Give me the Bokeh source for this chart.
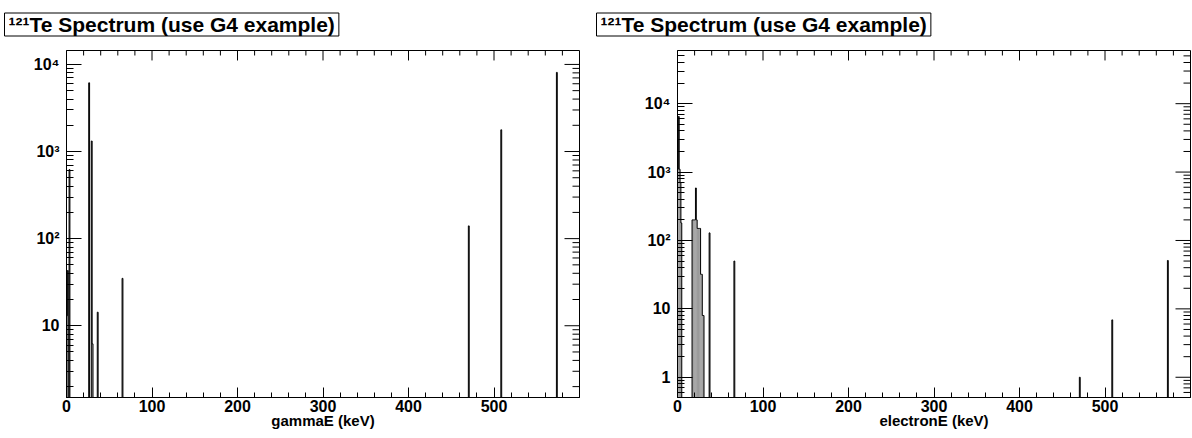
import math
import numpy as np
from bokeh.plotting import figure
from bokeh.models import Range1d, FixedTicker
from bokeh.layouts import row
from bokeh.embed import file_html
from bokeh.resources import INLINE

title_text = "¹²¹Te Spectrum (use G4 example)"

# histogram content: 1 keV bins (left edges) and their counts; all other bins are empty
gamma_bins = [0, 1, 3, 26, 29, 30, 36, 65, 470, 508, 573]
gamma_counts = [13, 43, 620, 6150, 1320, 6.2, 14.3, 35, 140, 1775, 8100]

electron_bins = [0, 1, 2, 3, 4, 17, 18, 19, 20, 21, 22, 23, 24, 25, 26, 27, 28, 29, 30, 37, 66, 470, 508, 573]
electron_counts = [1100, 6500, 1100, 700, 180, 200, 200, 200, 200, 585, 200, 150, 150, 150, 150,
                   32, 32, 8, 8, 129, 50, 1.0, 6.9, 51]

N_BINS = 600
x_major = [0, 100, 200, 300, 400, 500]
x_minor = list(range(0, 601, 20))
y_major = [1, 10, 100, 1000, 10000]
y_major_labels = ["1", "10", "10²", "10³", "10⁴"]
y_minor = [m * 10 ** k for k in range(-1, 5) for m in range(2, 10)]

FONT = "Liberation Sans"
W = 596
H = 438
MT = 49
MB = 41
XMAX = 600
X_MAJ_LEN, X_MIN_LEN = 10, 5
Y_MAJ_LEN, Y_MIN_LEN = 15, 7


def make_panel(bins, counts, xlabel, yrange, ml, mr, title_offset):
    ymin, ymax = yrange
    p = figure(width=W, height=H, x_range=Range1d(0, XMAX), y_range=Range1d(ymin, ymax),
               y_axis_type="log", output_backend="svg", toolbar_location=None,
               min_border_left=ml, min_border_right=mr, min_border_top=MT, min_border_bottom=MB)
    p.xgrid.visible = False
    p.ygrid.visible = False
    p.outline_line_color = "black"
    p.outline_line_width = 1
    p.background_fill_color = "white"
    p.border_fill_color = "white"

    # histogram (empty bins drawn below the visible range, as ROOT does on log scale)
    h = np.zeros(N_BINS)
    h[np.array(bins)] = counts
    floor = ymin * 1e-3
    y = np.where(h > 0, h, floor)
    nz = h > 0
    left = np.arange(N_BINS)[nz]
    # dense sub-pixel bin lines render as grey; emulate with a grey body under the outline
    p.quad(left=left, right=left + 1, top=h[nz], bottom=floor, fill_color="#8c8c8c",
           line_color=None)
    xs = np.arange(N_BINS + 1)
    ys = np.append(y, y[-1])
    p.step(x=xs, y=ys, mode="after", line_color="black", line_width=1)

    # bottom / left axes with inward ticks
    xa = p.xaxis[0]
    xa.ticker = FixedTicker(ticks=x_major, minor_ticks=x_minor)
    xa.major_tick_in, xa.minor_tick_in = X_MAJ_LEN, X_MIN_LEN
    ya = p.yaxis[0]
    ya.ticker = FixedTicker(ticks=y_major, minor_ticks=y_minor)
    ya.major_tick_in, ya.minor_tick_in = Y_MAJ_LEN, Y_MIN_LEN
    ya.major_label_overrides = {v: s for v, s in zip(y_major, y_major_labels)}
    for ax in (xa, ya):
        ax.major_tick_out = 0
        ax.minor_tick_out = 0
        ax.axis_line_color = "black"
        ax.major_tick_line_color = "black"
        ax.minor_tick_line_color = "black"
        ax.major_label_text_font = FONT
        ax.major_label_text_font_style = "bold"
        ax.major_label_text_font_size = "16px"
        ax.major_label_text_color = "black"
    xa.major_label_standoff = 2
    ya.major_label_standoff = 7
    xa.axis_label = xlabel
    xa.axis_label_text_font = FONT
    xa.axis_label_text_font_style = "bold"
    xa.axis_label_text_font_size = "15px"
    xa.axis_label_text_color = "black"
    xa.axis_label_standoff = -3

    # mirrored ticks on the top and right edges of the frame
    frame_w = W - ml - mr
    frame_h = H - MT - MB
    ppx = frame_w / XMAX
    ppd = frame_h / math.log10(ymax / ymin)
    tx0, tx1, ty0, ty1 = [], [], [], []
    for t, L in [(t, X_MAJ_LEN) for t in x_major] + [(t, X_MIN_LEN) for t in x_minor if t not in x_major]:
        if 0 < t < XMAX:
            tx0.append(t); tx1.append(t); ty0.append(ymax); ty1.append(ymax / 10 ** (L / ppd))
    for t, L in [(t, Y_MAJ_LEN) for t in y_major] + [(t, Y_MIN_LEN) for t in y_minor if t not in y_major]:
        if ymin < t < ymax:
            tx0.append(XMAX - L / ppx); tx1.append(XMAX); ty0.append(t); ty1.append(t)
    p.segment(x0=tx0, y0=ty0, x1=tx1, y1=ty1, line_color="black", line_width=1)

    # title box
    p.title.text = title_text
    p.title.align = "left"
    p.title.vertical_align = "top"
    p.title.offset = title_offset
    p.title.text_font = FONT
    p.title.text_font_style = "bold"
    p.title.text_font_size = "21px"
    p.title.text_color = "black"
    p.title.background_fill_color = "white"
    p.title.border_line_color = "black"
    p.title.border_line_width = 1
    p.title.padding = (4, 0)
    p.title.standoff = 25
    return p


p1 = make_panel(gamma_bins, gamma_counts, "gammaE (keV)", (1.5, 14450), 66, 17, -62)
p2 = make_panel(electron_bins, electron_counts, "electronE (keV)", (0.506, 59900), 81, 2, -81)

layout = row(p1, p2)
open("out.html", "w").write(file_html(layout, INLINE))
